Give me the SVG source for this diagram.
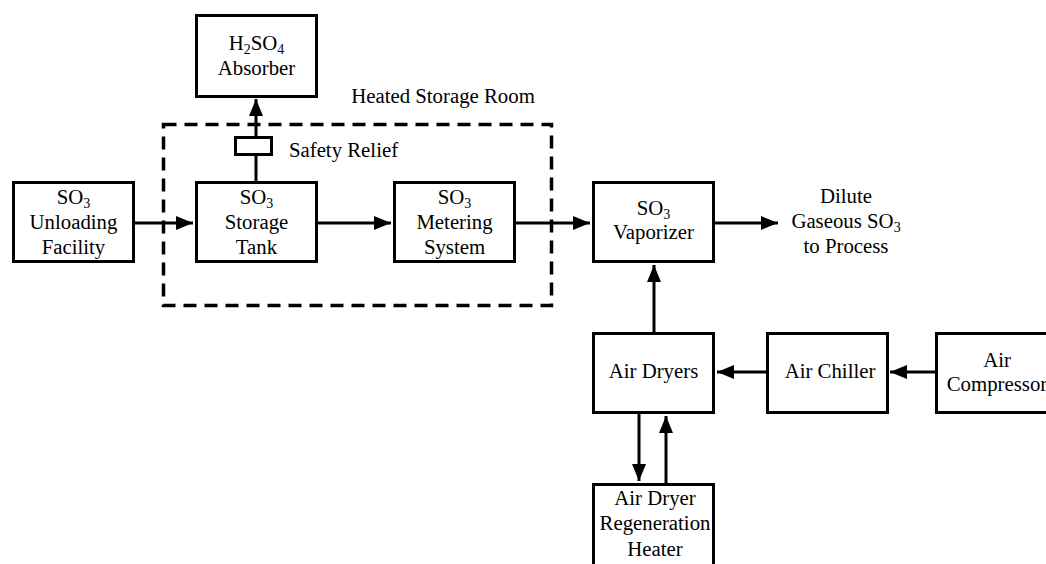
<svg xmlns="http://www.w3.org/2000/svg" width="1046" height="564" viewBox="0 0 1046 564">
<style>
.box{fill:#fff;stroke:#000;stroke-width:3}
.t{font-family:"Liberation Serif","Times New Roman",serif;font-size:20.8px;fill:#000;text-anchor:middle}
.sub{font-size:14px}
.c{stroke:#000;stroke-width:3;fill:none}
.room{fill:none;stroke:#000;stroke-width:3.5;stroke-dasharray:13 8}
</style>
<defs>
<marker id="ah" markerUnits="userSpaceOnUse" markerWidth="18" markerHeight="14" refX="17" refY="7" orient="auto">
<path d="M0,0 L17,7 L0,14 z" fill="#000"/>
</marker>
</defs>
<rect id="room" class="room" x="163.5" y="124.5" width="388" height="181"/>
<text class="t" x="443" y="103">Heated Storage Room</text>
<g id="connectors">
<line class="c" x1="135" y1="223" x2="193" y2="223" marker-end="url(#ah)"/>
<line class="c" x1="318" y1="223" x2="391" y2="223" marker-end="url(#ah)"/>
<line class="c" x1="516" y1="223" x2="590" y2="223" marker-end="url(#ah)"/>
<line class="c" x1="715" y1="223" x2="778" y2="223" marker-end="url(#ah)"/>
<line class="c" x1="256" y1="181" x2="256" y2="155"/>
<line class="c" x1="256" y1="137" x2="256" y2="99" marker-end="url(#ah)"/>
<line class="c" x1="654" y1="332" x2="654" y2="265" marker-end="url(#ah)"/>
<line class="c" x1="766" y1="372" x2="717" y2="372" marker-end="url(#ah)"/>
<line class="c" x1="935" y1="372" x2="890" y2="372" marker-end="url(#ah)"/>
<line class="c" x1="639" y1="414" x2="639" y2="481" marker-end="url(#ah)"/>
<line class="c" x1="666" y1="483" x2="666" y2="416" marker-end="url(#ah)"/>
</g>
<g id="relief">
<rect class="box" x="235.5" y="137.5" width="36" height="17"/>
<text class="t" x="343.5" y="157">Safety Relief</text>
</g>
<g id="absorber">
<rect class="box" x="196.5" y="15.5" width="120" height="81"/>
<text class="t" x="256.5" y="50">H<tspan class="sub" dy="4">2</tspan><tspan dy="-4">SO</tspan><tspan class="sub" dy="4">4</tspan></text>
<text class="t" x="256.5" y="75">Absorber</text>
</g>
<g id="unloading">
<rect class="box" x="13.5" y="182.5" width="120" height="79"/>
<text class="t" x="73.5" y="204">SO<tspan class="sub" dy="4">3</tspan></text>
<text class="t" x="73.5" y="229">Unloading</text>
<text class="t" x="73.5" y="254">Facility</text>
</g>
<g id="storage">
<rect class="box" x="196.5" y="182.5" width="120" height="79"/>
<text class="t" x="256.5" y="204">SO<tspan class="sub" dy="4">3</tspan></text>
<text class="t" x="256.5" y="229">Storage</text>
<text class="t" x="256.5" y="254">Tank</text>
</g>
<g id="metering">
<rect class="box" x="394.5" y="182.5" width="120" height="79"/>
<text class="t" x="454.5" y="204">SO<tspan class="sub" dy="4">3</tspan></text>
<text class="t" x="454.5" y="229">Metering</text>
<text class="t" x="454.5" y="254">System</text>
</g>
<g id="vaporizer">
<rect class="box" x="593.5" y="182.5" width="120" height="79"/>
<text class="t" x="653.5" y="215">SO<tspan class="sub" dy="4">3</tspan></text>
<text class="t" x="653.5" y="239">Vaporizer</text>
</g>
<g id="output">
<text class="t" x="846" y="203">Dilute</text>
<text class="t" x="846" y="228">Gaseous SO<tspan class="sub" dy="4">3</tspan></text>
<text class="t" x="846" y="253">to Process</text>
</g>
<g id="dryers">
<rect class="box" x="593.5" y="333.5" width="120" height="79"/>
<text class="t" x="653.5" y="378">Air Dryers</text>
</g>
<g id="chiller">
<rect class="box" x="767.5" y="333.5" width="120" height="79"/>
<text class="t" x="830" y="378">Air Chiller</text>
</g>
<g id="compressor">
<rect class="box" x="936.5" y="333.5" width="120" height="79"/>
<text class="t" x="997" y="367">Air</text>
<text class="t" x="997" y="391">Compressor</text>
</g>
<g id="heater">
<rect class="box" x="593.5" y="484.5" width="120" height="82"/>
<text class="t" x="655" y="505">Air Dryer</text>
<text class="t" x="655" y="530">Regeneration</text>
<text class="t" x="655" y="556">Heater</text>
</g>
</svg>
